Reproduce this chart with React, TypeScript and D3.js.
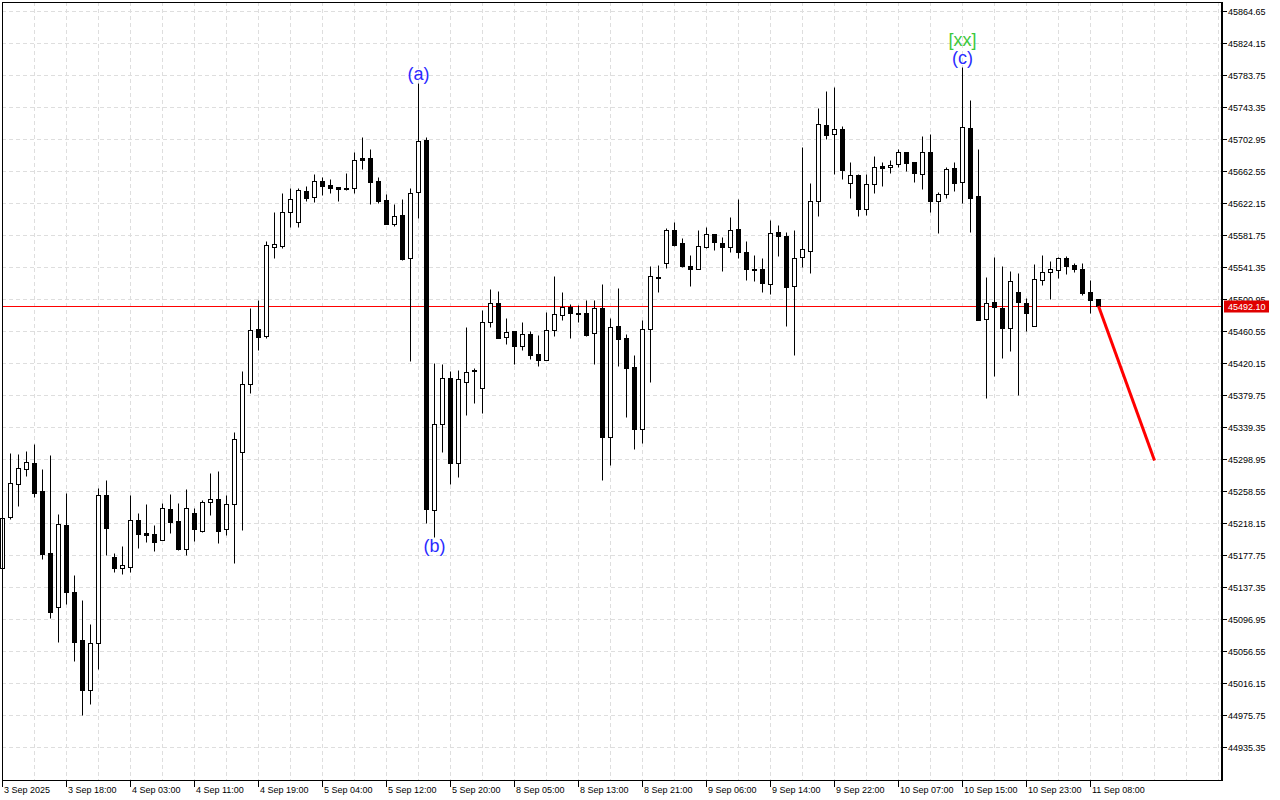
import React from "react";
import * as d3 from "d3";

// Hourly OHLC candles (bar 0 = 3 Sep 2025 10:00 ... bar 137 = 11 Sep 08:00+1h)
const opens = [
  45161, 45226, 45267, 45286, 45294, 45259, 45180, 45112, 45216, 45131,
  45070, 45007, 45067, 45254, 45175, 45161, 45163, 45222, 45206, 45204,
  45197, 45236, 45221, 45185, 45231, 45208, 45245, 45248, 45211, 45242,
  45308, 45394, 45463, 45454, 45567, 45568, 45611, 45598, 45637, 45630,
  45650, 45645, 45642, 45641, 45641, 45679, 45679, 45650, 45626, 45596,
  45607, 45553, 45636, 45702, 45235, 45343, 45401, 45294, 45396, 45411,
  45389, 45472, 45496, 45453, 45461, 45442, 45457, 45432, 45424, 45462,
  45481, 45491, 45483, 45483, 45458, 45490, 45327, 45467, 45452, 45415,
  45337, 45463, 45529, 45546, 45588, 45572, 45543, 45539, 45567, 45583,
  45572, 45567, 45589, 45560, 45539, 45539, 45520, 45586, 45581, 45517,
  45554, 45562, 45625, 45721, 45709, 45716, 45647, 45658, 45615, 45646,
  45669, 45668, 45671, 45687, 45674, 45659, 45687, 45625, 45634, 45666,
  45649, 45717, 45631, 45476, 45497, 45490, 45464, 45510, 45496, 45467,
  45525, 45535, 45538, 45553, 45544, 45539, 45510, 45501,
];
const highs = [
  45226, 45307, 45305, 45309, 45318, 45286, 45304, 45230, 45256, 45153,
  45121, 45091, 45262, 45272, 45180, 45189, 45254, 45231, 45242, 45216,
  45243, 45255, 45243, 45261, 45237, 45247, 45281, 45284, 45254, 45333,
  45410, 45490, 45500, 45574, 45611, 45635, 45641, 45641, 45644, 45659,
  45655, 45653, 45642, 45660, 45687, 45706, 45690, 45655, 45634, 45621,
  45627, 45641, 45774, 45706, 45420, 45419, 45410, 45411, 45466, 45414,
  45487, 45514, 45511, 45477, 45461, 45472, 45461, 45456, 45485, 45530,
  45510, 45495, 45493, 45500, 45500, 45520, 45477, 45515, 45457, 45430,
  45475, 45543, 45544, 45591, 45598, 45578, 45557, 45588, 45592, 45583,
  45579, 45605, 45627, 45574, 45557, 45553, 45601, 45594, 45586, 45588,
  45693, 45647, 45742, 45764, 45769, 45719, 45674, 45659, 45659, 45682,
  45674, 45677, 45690, 45687, 45674, 45707, 45709, 45636, 45668, 45674,
  45794, 45752, 45690, 45529, 45554, 45543, 45536, 45534, 45502, 45545,
  45557, 45549, 45554, 45555, 45546, 45546, 45525, 45501,
];
const lows = [
  45159, 45223, 45240, 45278, 45251, 45173, 45098, 45068, 45116, 45044,
  44976, 44990, 45034, 45178, 45156, 45154, 45156, 45187, 45194, 45183,
  45197, 45206, 45184, 45178, 45195, 45207, 45228, 45193, 45203, 45168,
  45209, 45382, 45437, 45452, 45553, 45565, 45592, 45592, 45625, 45623,
  45632, 45635, 45625, 45639, 45635, 45665, 45621, 45622, 45596, 45593,
  45550, 45423, 45603, 45218, 45200, 45308, 45267, 45276, 45355, 45370,
  45357, 45466, 45452, 45444, 45419, 45437, 45425, 45416, 45424, 45454,
  45475, 45452, 45472, 45454, 45419, 45272, 45291, 45416, 45352, 45312,
  45319, 45396, 45510, 45540, 45568, 45541, 45517, 45539, 45565, 45563,
  45536, 45560, 45553, 45525, 45524, 45510, 45507, 45555, 45467, 45430,
  45541, 45534, 45606, 45703, 45659, 45653, 45629, 45606, 45607, 45635,
  45644, 45660, 45668, 45663, 45649, 45640, 45611, 45584, 45629, 45637,
  45622, 45586, 45475, 45376, 45404, 45427, 45435, 45380, 45461, 45467,
  45519, 45501, 45528, 45533, 45535, 45506, 45483, 45490,
];
const closes = [
  45224, 45269, 45288, 45295, 45256, 45179, 45106, 45217, 45131, 45068,
  45007, 45067, 45254, 45212, 45161, 45165, 45222, 45204, 45203, 45194,
  45237, 45219, 45185, 45237, 45211, 45245, 45248, 45208, 45242, 45324,
  45394, 45462, 45453, 45569, 45570, 45611, 45627, 45639, 45629, 45650,
  45644, 45641, 45640, 45640, 45677, 45677, 45649, 45625, 45596, 45606,
  45552, 45635, 45701, 45236, 45343, 45401, 45294, 45400, 45409, 45410,
  45472, 45496, 45452, 45459, 45442, 45457, 45430, 45424, 45462, 45482,
  45491, 45483, 45482, 45456, 45490, 45327, 45466, 45451, 45414, 45337,
  45463, 45530, 45528, 45588, 45569, 45543, 45539, 45568, 45583, 45573,
  45567, 45588, 45560, 45539, 45538, 45521, 45584, 45581, 45516, 45553,
  45564, 45625, 45722, 45708, 45716, 45664, 45658, 45615, 45646, 45668,
  45666, 45670, 45687, 45673, 45660, 45687, 45625, 45634, 45665, 45647,
  45718, 45629, 45475, 45496, 45491, 45464, 45524, 45497, 45483, 45526,
  45535, 45539, 45553, 45543, 45539, 45509, 45500, 45492.1,
];

const priceTickLabels = [
  "45864.65", "45824.15", "45783.75", "45743.35", "45702.95", "45662.55",
  "45622.15", "45581.75", "45541.35", "45500.95", "45460.55", "45420.15",
  "45379.75", "45339.35", "45298.95", "45258.55", "45218.15", "45177.75",
  "45137.35", "45096.95", "45056.55", "45016.15", "44975.75", "44935.35",
];

const dateTickBars = [0, 8, 16, 24, 32, 40, 48, 56, 64, 72, 80, 88, 96, 104, 112, 120, 128, 136];
const dateTickLabels = [
  "3 Sep 2025", "3 Sep 18:00", "4 Sep 03:00", "4 Sep 11:00", "4 Sep 19:00",
  "5 Sep 04:00", "5 Sep 12:00", "5 Sep 20:00", "8 Sep 05:00", "8 Sep 13:00",
  "8 Sep 21:00", "9 Sep 06:00", "9 Sep 14:00", "9 Sep 22:00", "10 Sep 07:00",
  "10 Sep 15:00", "10 Sep 23:00", "11 Sep 08:00",
];

const currentPrice = 45492.1;
const currentPriceLabel = "45492.10";

const forecastBars = [137, 144];
const forecastPrices = [45492.1, 45297];

const annotationTexts = ["(a)", "(b)", "(c)", "[xx]"];
const annotationBars = [52, 54, 120, 120];
const annotationPrices = [45785, 45189, 45805, 45828];
const annotationColors = ["#2b2bff", "#2b2bff", "#2b2bff", "#3cc83c"];

const FONT = "'Liberation Sans', Arial, sans-serif";

export default function App() {
  const W = 1280;
  const H = 800;
  const frameLeft = 2;
  const frameTop = 2;
  const frameRight = 1222;
  const frameBottom = 780;

  const x = d3.scaleLinear().domain([0, 137]).range([2, 1098]);
  const y = d3.scaleLinear().domain([44935.35, 45864.65]).range([747, 11]);

  const gridBars = d3.range(4, 153, 4);
  const candles = d3.range(opens.length).map((i) => ({
    i,
    o: opens[i],
    h: highs[i],
    l: lows[i],
    c: closes[i],
  }));

  const line = d3
    .line<number>()
    .x((_, k) => x(forecastBars[k]) + 0.5)
    .y((p) => y(p));

  const curY = Math.round(y(currentPrice)) + 0.5;

  return (
    <svg
      width={W}
      height={H}
      style={{ position: "fixed", left: 0, top: 0, background: "#fff", display: "block" }}
    >
      <rect x={0} y={0} width={W} height={H} fill="#fff" />
      {/* grid */}
      <g stroke="#dedede" strokeWidth={1} strokeDasharray="4,3">
        {priceTickLabels.map((t) => {
          const yy = Math.round(y(parseFloat(t))) + 0.5;
          return <line key={"hg" + t} x1={frameLeft} x2={frameRight - 1} y1={yy} y2={yy} />;
        })}
        {gridBars.map((b) => {
          const xx = Math.round(x(b)) + 0.5;
          return <line key={"vg" + b} x1={xx} x2={xx} y1={frameTop} y2={frameBottom} />;
        })}
      </g>

      {/* current price line */}
      <line x1={frameLeft} x2={frameRight} y1={curY} y2={curY} stroke="#ff0000" strokeWidth={1} />

      {/* candles */}
      <g>
        {candles.map((d) => {
          const cx = Math.round(x(d.i)) + 0.5;
          const yHigh = Math.round(y(Math.max(d.h, d.o, d.c))) + 0.5;
          const yLow = Math.round(y(Math.min(d.l, d.o, d.c))) + 0.5;
          const yTop = Math.round(y(Math.max(d.o, d.c))) + 0.5;
          const yBot = Math.round(y(Math.min(d.o, d.c))) + 0.5;
          const bull = d.c >= d.o;
          return (
            <g key={"c" + d.i}>
              <line x1={cx} x2={cx} y1={yHigh} y2={yLow} stroke="#000" strokeWidth={1} />
              {yBot - yTop >= 1 ? (
                <rect
                  x={cx - 2}
                  y={yTop}
                  width={4}
                  height={yBot - yTop}
                  fill={bull ? "#fff" : "#000"}
                  stroke="#000"
                  strokeWidth={1}
                />
              ) : (
                <line x1={cx - 2.5} x2={cx + 2.5} y1={yTop} y2={yTop} stroke="#000" strokeWidth={1} />
              )}
            </g>
          );
        })}
      </g>

      {/* forecast line */}
      <path d={line(forecastPrices) || ""} fill="none" stroke="#ff0000" strokeWidth={3} />

      {/* wave annotations */}
      {annotationTexts.map((t, k) => (
        <text
          key={"an" + k}
          x={x(annotationBars[k]) + 0.5}
          y={y(annotationPrices[k])}
          fill={annotationColors[k]}
          fontFamily={FONT}
          fontSize={18}
          textAnchor="middle"
          dominantBaseline="central"
        >
          {t}
        </text>
      ))}

      {/* frame */}
      <line x1={frameLeft + 0.5} x2={frameLeft + 0.5} y1={frameTop} y2={frameBottom + 1} stroke="#000" strokeWidth={1} />
      <line x1={frameLeft} x2={frameRight + 1} y1={frameTop + 0.5} y2={frameTop + 0.5} stroke="#000" strokeWidth={1} />
      <line x1={frameRight} x2={frameRight} y1={frameTop} y2={frameBottom + 1} stroke="#000" strokeWidth={2} />
      <line x1={frameLeft} x2={frameRight + 1} y1={frameBottom + 0.5} y2={frameBottom + 0.5} stroke="#000" strokeWidth={1} />

      {/* right price axis */}
      <g fontFamily={FONT} fontSize={9} fill="#000">
        {priceTickLabels.map((t) => {
          const yy = Math.round(y(parseFloat(t))) + 0.5;
          return (
            <g key={"pl" + t}>
              <line x1={frameRight + 1} x2={frameRight + 5} y1={yy} y2={yy} stroke="#000" strokeWidth={1} />
              <text x={frameRight + 6} y={yy} dominantBaseline="central">
                {t}
              </text>
            </g>
          );
        })}
      </g>

      {/* current price tag */}
      <rect x={frameRight + 2} y={curY - 6} width={45} height={12} fill="#e00000" />
      <text
        x={frameRight + 6}
        y={curY}
        fontFamily={FONT}
        fontSize={9}
        fill="#fff"
        dominantBaseline="central"
      >
        {currentPriceLabel}
      </text>

      {/* bottom date axis */}
      <g fontFamily={FONT} fontSize={9} fill="#000">
        {dateTickBars.map((b, k) => {
          const xx = Math.round(x(b)) + 0.5;
          return (
            <g key={"dt" + b}>
              <line x1={xx} x2={xx} y1={frameBottom} y2={frameBottom + 7} stroke="#000" strokeWidth={1} />
              <text x={xx + 1.5} y={frameBottom + 13} >
                {dateTickLabels[k]}
              </text>
            </g>
          );
        })}
      </g>
    </svg>
  );
}
